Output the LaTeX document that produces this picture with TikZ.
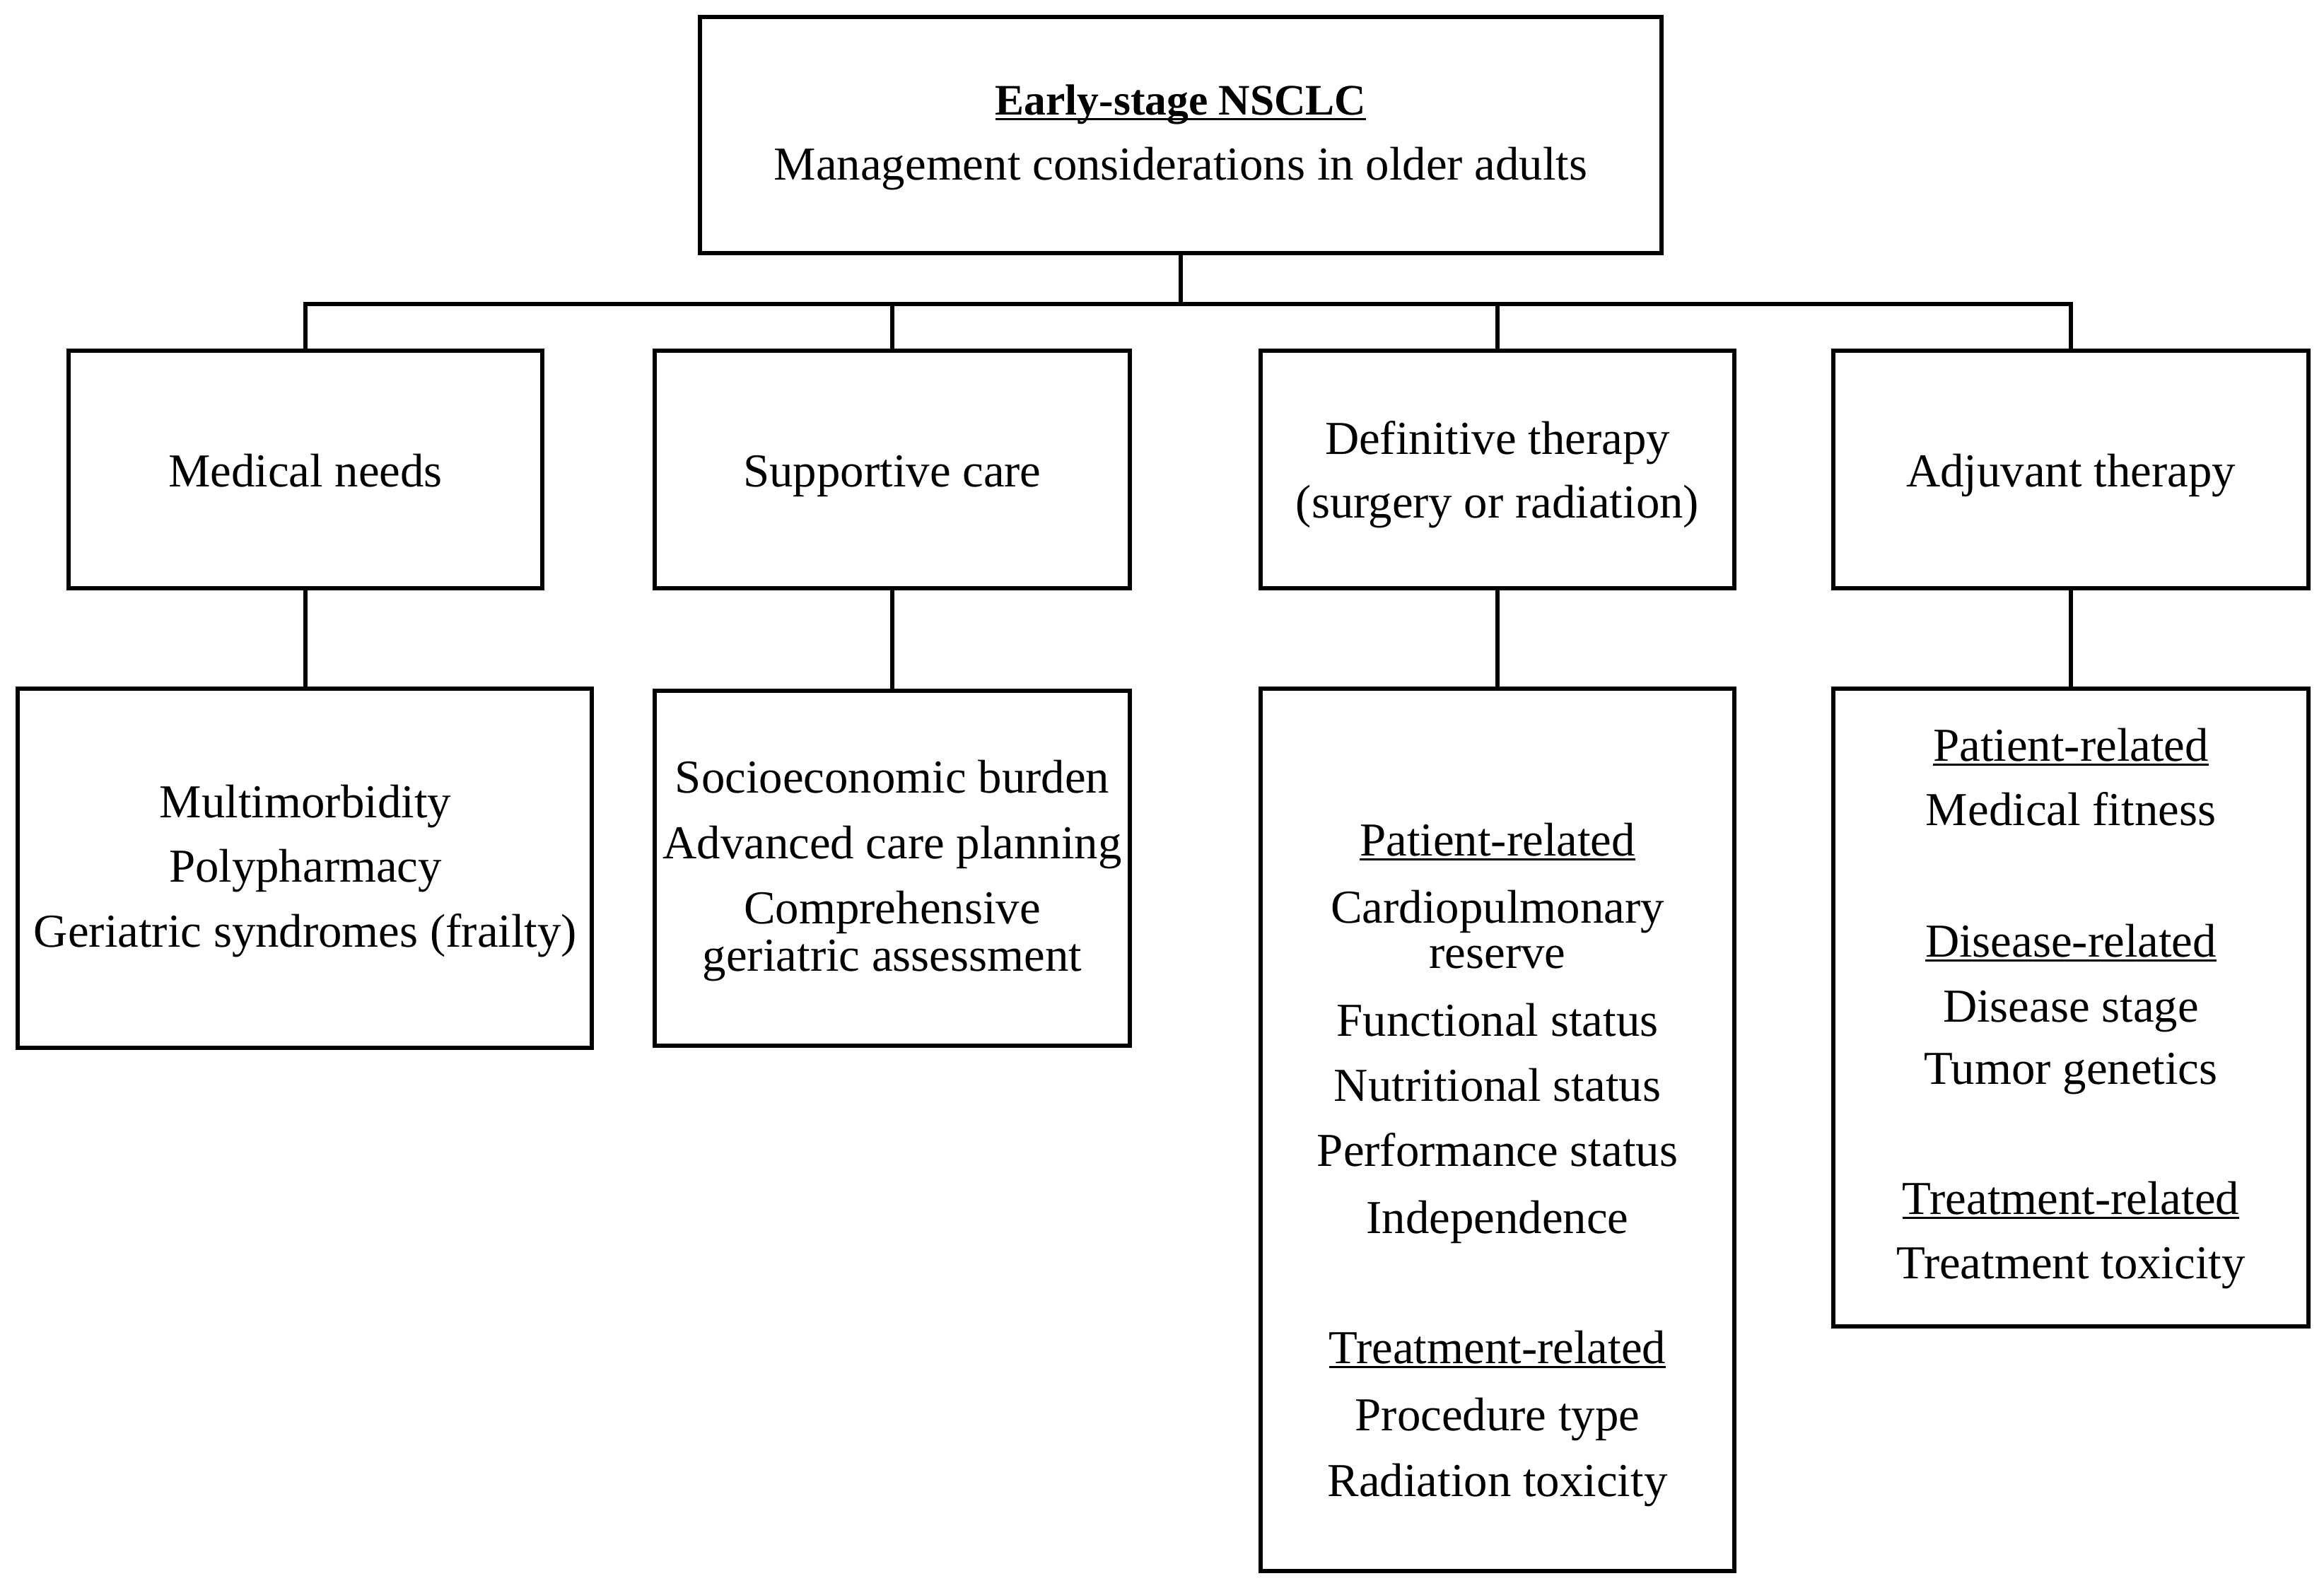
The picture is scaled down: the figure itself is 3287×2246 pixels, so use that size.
\documentclass[tikz,border=0pt]{standalone}
\usepackage{fontspec}
\setmainfont{Liberation Serif}
\newcommand\ulx[1]{\setbox0\hbox{#1}\rlap{\rule[-2pt]{\wd0}{0.9pt}}\box0}
\begin{document}
\begin{tikzpicture}[x=0.01cm,y=-0.01cm,
  box/.style={draw=black,line width=1.7pt,rectangle,inner sep=0pt},
  txt/.style={anchor=base,inner sep=0pt,font=\fontsize{19pt}{22pt}\selectfont},
  conn/.style={draw=black,line width=1.6pt}]
\useasboundingbox (0,0) rectangle (3287,2246);
% boxes
\node[box,line width=1.9pt,minimum width=13.59cm,minimum height=3.34cm] (top) at (1670,191) {};
\node[box,minimum width=6.70cm,minimum height=3.35cm] (a) at (432,664) {};
\node[box,minimum width=6.72cm,minimum height=3.35cm] (b) at (1262,664) {};
\node[box,minimum width=6.69cm,minimum height=3.35cm] (c) at (2118,664) {};
\node[box,minimum width=6.72cm,minimum height=3.35cm] (d) at (2929,664) {};
\node[box,minimum width=8.11cm,minimum height=5.07cm] (a3) at (431,1228) {};
\node[box,minimum width=6.72cm,minimum height=5.02cm] (b3) at (1262,1228) {};
\node[box,minimum width=6.69cm,minimum height=12.47cm] (c3) at (2118,1598) {};
\node[box,minimum width=6.72cm,minimum height=9.01cm] (d3) at (2929,1425) {};
% connectors
\coordinate (hub) at (1670,430);
\draw[conn] (top.south) -- (hub);
\draw[conn] (a.north) |- (hub);
\draw[conn] (b.north) |- (hub);
\draw[conn] (c.north) |- (hub);
\draw[conn] (d.north) |- (hub);
\draw[conn] (a.south) -- (a.south |- a3.north);
\draw[conn] (b.south) -- (b.south |- b3.north);
\draw[conn] (c.south) -- (c.south |- c3.north);
\draw[conn] (d.south) -- (d.south |- d3.north);
% texts
\node[txt,font=\fontsize{17.5pt}{21pt}\selectfont\bfseries] (t1) at (1670,163) {\ulx{Early-stage NSCLC}};
\node[txt] (t2) at (1670,255) {Management considerations in older adults};
\node[txt] (ta) at (432,689) {Medical needs};
\node[txt] (tb) at (1262,689) {Supportive care};
\node[txt] (tc1) at (2118,643) {Definitive therapy};
\node[txt] (tc2) at (2118,733) {(surgery or radiation)};
\node[txt] (td) at (2929,689) {Adjuvant therapy};
\foreach \t/\yy [count=\i] in {{Multimorbidity}/1156,{Polypharmacy}/1247,{Geriatric syndromes (frailty)}/1339}
  \node[txt] (ta3-\i) at (432,\yy) {\t};
\foreach \t/\yy [count=\i] in {{Socioeconomic burden}/1121,{Advanced care planning}/1214,{Comprehensive}/1306,{geriatric assessment}/1373}
  \node[txt] (tb3-\i) at (1262,\yy) {\t};
\foreach \t/\yy [count=\i] in {{\ulx{Patient-related}}/1210,{Cardiopulmonary}/1305,{reserve}/1369,{Functional status}/1465,{Nutritional status}/1557,{Performance status}/1649,{Independence}/1744,{\ulx{Treatment-related}}/1928,{Procedure type}/2023,{Radiation toxicity}/2116}
  \node[txt] (tc3-\i) at (2118,\yy) {\t};
\foreach \t/\yy [count=\i] in {{\ulx{Patient-related}}/1076,{Medical fitness}/1167,{\ulx{Disease-related}}/1353,{Disease stage}/1445,{Tumor genetics}/1533,{\ulx{Treatment-related}}/1717,{Treatment toxicity}/1808}
  \node[txt] (td3-\i) at (2929,\yy) {\t};
\end{tikzpicture}
\end{document}
